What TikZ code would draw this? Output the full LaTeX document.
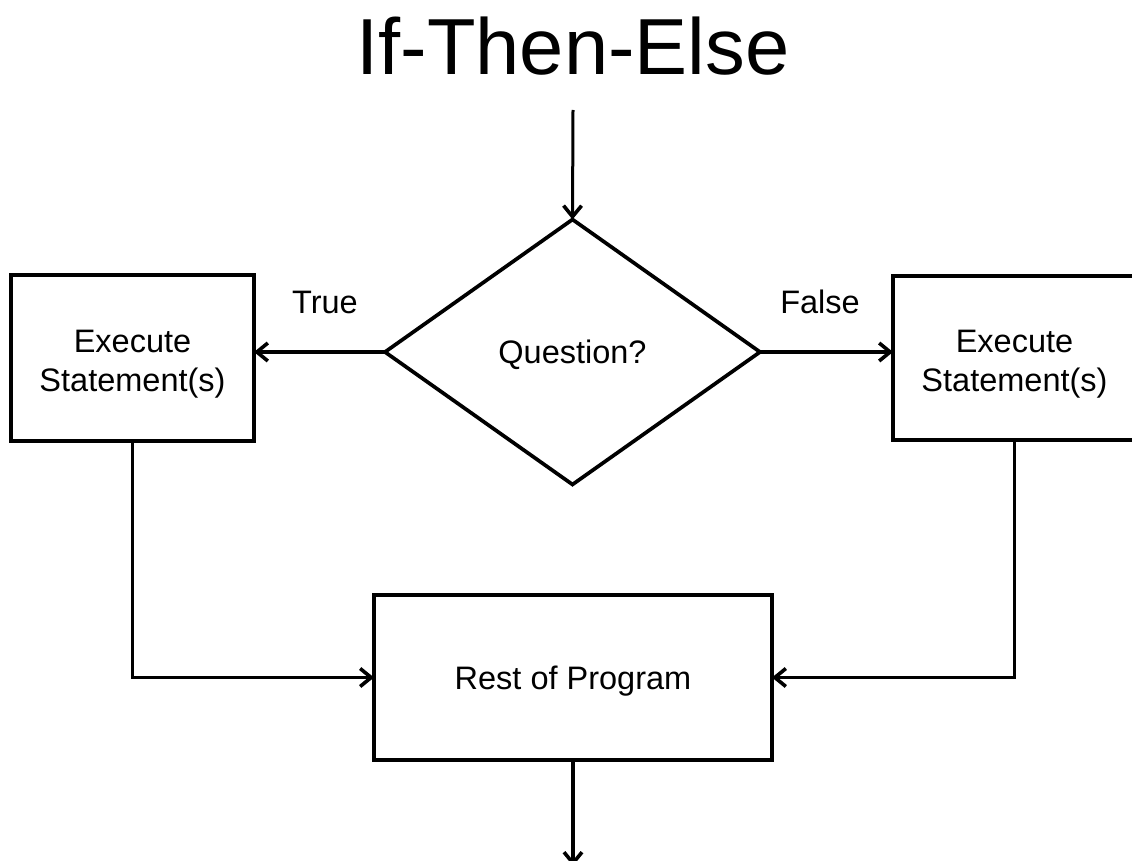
\documentclass[tikz,border=0pt]{standalone}
\usepackage{fontspec}
\setmainfont{Liberation Sans}
\usetikzlibrary{shapes.geometric,arrows.meta}
\newcommand{\topstrut}{\rule{0pt}{35pt}}
\begin{document}
\begin{tikzpicture}[x=1pt,y=-1pt,
  line width=3.7pt,
  txt/.style={font=\fontsize{32.5}{39}\selectfont, align=center},
  one/.style={text height=23.4pt, text depth=0pt},
  box/.style={draw, txt, inner sep=0pt, outer sep=0pt},
  arr/.style={-{Straight Barb[length=11pt,width=18pt,line width=3.6pt]}}
]
\useasboundingbox (0,0) rectangle (1132,861);
\node[font=\fontsize{79.5}{90}\selectfont, anchor=base] (title) at (573,75) {If-Then-Else};
\coordinate (start) at (573,110);
\coordinate (finish) at (573,866);
\node[draw, shape=diamond, txt, one, inner sep=0pt, outer sep=0pt, minimum width=375pt, minimum height=265pt] (q) at (572.5,352) {Question?};
\node[box, minimum width=243pt, minimum height=166pt] (lbox) at (132.5,358) {\topstrut Execute\\Statement(s)};
\node[box, minimum width=243pt, minimum height=164pt] (rbox) at (1014.5,358) {\topstrut Execute\\Statement(s)};
\node[box, one, minimum width=398pt, minimum height=165pt] (rest) at (573,677.5) {Rest of Program};
\node[txt, anchor=base] (tlab) at (325,313) {True};
\node[txt, anchor=base] (flab) at (820,313) {False};
\draw[arr, line width=3pt] (start) -- (q.north);
\draw[arr] (q.west) -- (q.west -| lbox.east);
\draw[arr] (q.east) -- (q.east -| rbox.west);
\draw[arr] (lbox.south) |- (rest.west);
\draw[arr] (rbox.south) |- (rest.east);
\draw[arr] (rest.south) -- (finish);
\end{tikzpicture}
\end{document}
